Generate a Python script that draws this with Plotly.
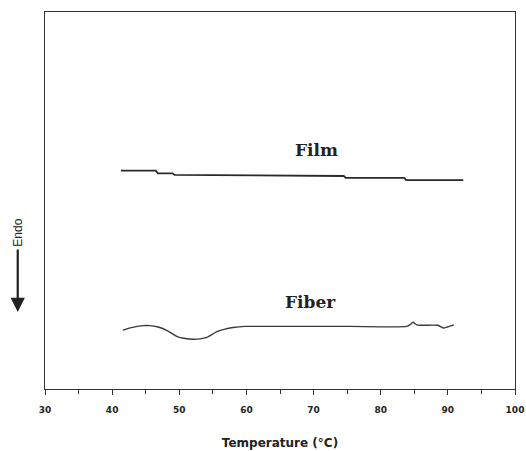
import plotly.graph_objects as go

# Temperature (°C) and heat flow (arbitrary units)
film_temp = [41.3, 46.5, 46.8, 49.0, 49.3, 66.5, 66.8, 74.5, 74.8, 83.5, 83.8, 92.3]
film_heat = [5.79, 5.79, 5.72, 5.72, 5.68, 5.67, 5.65, 5.65, 5.60, 5.60, 5.54, 5.54]

fiber_temp = [41.6, 42.7, 44.6, 45.6, 46.7, 48.2, 49.7, 50.9, 52.0, 53.1, 54.1, 55.6,
              56.8, 58.0, 59.8, 62.0, 68.0, 75.4, 83.9, 84.4, 84.8, 85.3, 85.9, 88.5,
              89.3, 90.0, 90.9]
fiber_heat = [1.56, 1.62, 1.68, 1.68, 1.65, 1.55, 1.39, 1.34, 1.32, 1.33, 1.37, 1.52,
              1.59, 1.63, 1.66, 1.66, 1.66, 1.66, 1.66, 1.71, 1.77, 1.71, 1.69, 1.69,
              1.62, 1.65, 1.70]

x_ticks = [30, 40, 50, 60, 70, 80, 90, 100]
labels = [("Film", 70.4, 6.34), ("Fiber", 69.6, 2.31)]

fig = go.Figure()
fig.add_trace(go.Scatter(x=film_temp, y=film_heat, mode="lines",
                         line=dict(color="#2a2a2a", width=1.8), showlegend=False))
fig.add_trace(go.Scatter(x=fiber_temp, y=fiber_heat, mode="lines", line_shape="spline",
                         line=dict(color="#3a3a3a", width=1.4, smoothing=0.6),
                         showlegend=False))

for txt, tx, ty in labels:
    fig.add_annotation(x=tx, y=ty, text=txt, showarrow=False,
                       font=dict(family="DejaVu Serif", size=17, color="#222",
                                 weight="bold"))

# Endo label and arrow
fig.add_annotation(xref="paper", yref="paper", x=-0.058, y=0.414, text="Endo",
                   textangle=-90, showarrow=False, xanchor="center", yanchor="middle",
                   font=dict(family="Liberation Sans", size=12, color="#222"))
fig.add_annotation(xref="paper", yref="paper", x=-0.058, y=0.204,
                   ax=0, ay=-64, axref="pixel", ayref="pixel",
                   text="", showarrow=True, arrowhead=2, arrowsize=1.3,
                   arrowwidth=2.2, arrowcolor="#222")

fig.update_layout(
    width=526, height=451,
    margin=dict(l=45, r=11, t=12, b=62),
    paper_bgcolor="white", plot_bgcolor="white",
    xaxis=dict(range=[30, 100], tickvals=x_ticks, ticktext=[str(v) for v in x_ticks],
               automargin=False,
               showgrid=False, zeroline=False, showline=True, linecolor="#333",
               linewidth=1.3, mirror=True, ticks="outside", ticklen=5, tickwidth=1.3,
               tickcolor="#333", ticklabelstandoff=7,
               minor=dict(tickvals=[35, 45, 55, 65, 75, 85, 95], ticks="outside",
                          ticklen=4, tickwidth=1.2, tickcolor="#333"),
               tickfont=dict(family="DejaVu Sans", size=9, color="#222", weight="bold"),
               title=dict(text="Temperature (°C)", standoff=24,
                          font=dict(family="DejaVu Sans", size=12, color="#222",
                                    weight="bold"))),
    yaxis=dict(range=[0, 10], automargin=False, showgrid=False, zeroline=False,
               showline=True, linecolor="#333", linewidth=1.3, mirror=True, ticks="",
               showticklabels=False),
)

fig.write_html("out.html")
